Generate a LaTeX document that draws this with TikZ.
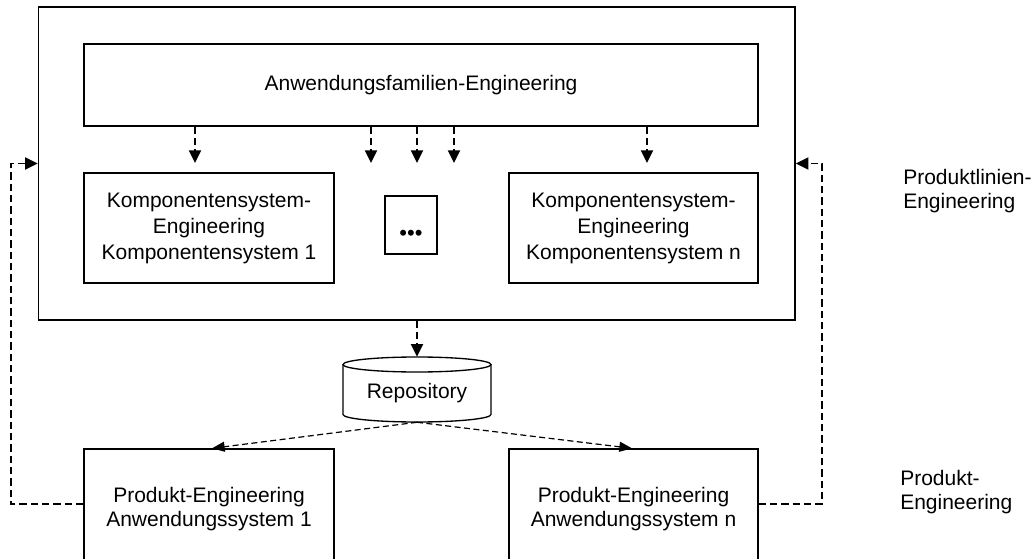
\documentclass[tikz,border=0pt]{standalone}
\usepackage{fontspec}
\setmainfont{Liberation Sans}
\usetikzlibrary{arrows.meta,calc}
\begin{document}
\begin{tikzpicture}[x=0.75pt,y=-0.75pt,
  box/.style={draw,line width=1pt,inner sep=0pt,align=center,
    font=\fontsize{15.75}{19.5}\selectfont},
  flow/.style={line width=1.4pt,dash pattern=on 5.5pt off 3pt,
    -{Triangle[length=9.5pt,width=9pt]}},
  fetch/.style={line width=0.9pt,dash pattern=on 4.5pt off 2.6pt,
    -{Triangle[length=9.5pt,width=7.5pt]}},
  side/.style={align=left,inner sep=0pt,anchor=north west,
    font=\fontsize{15.75}{18}\selectfont}]
\useasboundingbox (0,0) rectangle (1034,559);

% product line frame with domain and component engineering
\node[box,minimum width=567.4pt,minimum height=234.75pt] (frame) at (416.75,163.5) {};
\node[box,minimum width=505.5pt,minimum height=61.5pt] (fam) at (421,85) {Anwendungsfamilien-Engineering};
\node[box,minimum width=187.5pt,minimum height=82.5pt] (k1) at (209,228)
  {Komponentensystem-\\Engineering\\Komponentensystem 1};
\node[box,minimum width=39pt,minimum height=43.5pt] (dots) at (411,225) {};
\node[inner sep=0pt,font=\fontsize{16.5}{19.5}\selectfont] (dotmark) at (411,235) {•••};
\node[box,minimum width=186.75pt,minimum height=82.5pt] (kn) at (633.5,228)
  {Komponentensystem-\\Engineering\\Komponentensystem n};

% repository cylinder
\draw[line width=1pt] (343,364.5) -- (343,414.5)
  arc[start angle=180,end angle=360,x radius=55.5pt,y radius=5.625pt] -- (491,364.5);
\draw[line width=1pt] (417,364.5) ellipse[x radius=55.5pt,y radius=5.625pt];
\node[inner sep=0pt,minimum width=111pt,minimum height=48.75pt,
  font=\fontsize{15.75}{19.5}\selectfont,text height=17pt,text depth=3.3pt] (repo) at (417,389.5) {Repository};

% application engineering boxes, cut off at the lower edge
\begin{scope}
\clip (0,0) rectangle (1034,559);
\node[box,minimum width=187.5pt,minimum height=90pt,font=\fontsize{15.75}{17.5}\selectfont] (p1) at (209,509)
  {Produkt-Engineering\\Anwendungssystem 1};
\node[box,minimum width=186.75pt,minimum height=90pt,font=\fontsize{15.75}{17.5}\selectfont] (pn) at (633.5,509)
  {Produkt-Engineering\\Anwendungssystem n};
\end{scope}

% level labels
\node[side] (lvlpl) at (903,169.5) {Produktlinien-\\Engineering};
\node[side] (lvlp) at (900,470.5) {Produkt-\\Engineering};

% flows from domain engineering to the component systems
\coordinate (a1) at (195,163);
\coordinate (a2) at (371,163);
\coordinate (a3) at (417,163);
\coordinate (a4) at (454,163);
\coordinate (a5) at (647,163);
\foreach \c in {a1,a2,a3,a4,a5}
  \draw[flow] (fam.south -| \c) -- (\c);

% into and out of the repository
\draw[flow] (frame.south -| repo.north) -- (repo.north);
\coordinate (t1) at (212,449);
\coordinate (tn) at (632,449);
\draw[fetch] (repo.south) -- (p1.north -| t1);
\draw[fetch] (repo.south) -- (pn.north -| tn);

% feedback from product engineering to the product line
\coordinate (l1) at (11,504);
\coordinate (r1) at (822,504);
\draw[flow] (p1.west |- l1) -- (l1) |- (frame.west);
\draw[flow] (pn.east |- r1) -- (r1) |- (frame.east);
\end{tikzpicture}
\end{document}
